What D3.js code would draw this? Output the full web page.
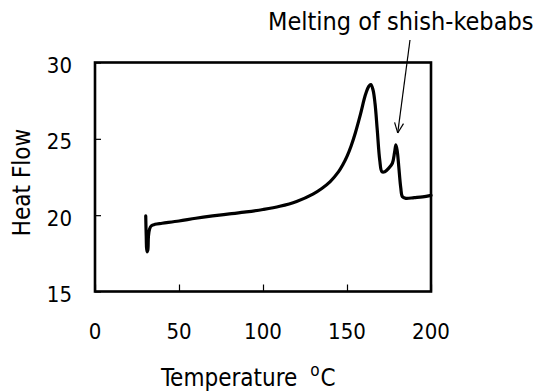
<!DOCTYPE html>
<html>
<head>
<meta charset="utf-8">
<script src="https://cdn.jsdelivr.net/npm/d3@7"></script>
<style>
  html, body { margin: 0; padding: 0; background: #fff; }
  svg { display: block; }
  text { font-family: "DejaVu Sans Condensed", "DejaVu Sans", sans-serif; font-stretch: condensed; fill: #000; }
</style>
</head>
<body>
<svg id="chart" width="538" height="391"></svg>
<script>
// DSC trace: temperature (°C) and heat flow
const temperature = [30.2, 30.5, 30.9, 31.4, 31.8, 32.5, 33.5, 35.7, 40, 50, 60, 70, 80, 90, 100,
  110, 120, 130, 135, 140, 145, 147.5, 150, 152.5, 155, 158, 161, 163, 164.2, 165.5, 166.7, 168, 169.5,
  170.8, 172.5, 175, 177, 178.3, 179.1, 179.9, 180.8, 182, 183, 185, 190, 195, 200];
const heatFlow = [19.95, 18.6, 17.6, 17.7, 18.6, 19.1, 19.3, 19.4, 19.47, 19.62, 19.8, 19.95, 20.08, 20.21, 20.37,
  20.58, 20.9, 21.4, 21.75, 22.2, 22.85, 23.3, 23.85, 24.55, 25.4, 26.6, 27.9, 28.45, 28.55, 28.2, 27.3, 25.6, 23.6,
  22.85, 22.85, 23.1, 23.4, 24.1, 24.6, 24.2, 23.2, 21.8, 21.2, 21.1, 21.15, 21.2, 21.3];

const xTicks = [0, 50, 100, 150, 200];
const yTicks = [15, 20, 25, 30];
const xDomain = [0, 200];
const yDomain = [15, 30];

// Annotated second melting peak
const annotationText = "Melting of shish-kebabs";
const annotationTarget = [179, 24.6];

(function draw() {
  const svg = d3.select("#chart");
  const pl = 95, pr = 431, pt = 62.5, pb = 291.5;

  const x = d3.scaleLinear().domain(xDomain).range([pl, pr]);
  const y = d3.scaleLinear().domain(yDomain).range([pb, pt]);

  // Axes: inward ticks, labels drawn separately
  const xAxis = svg.append("g")
    .attr("transform", `translate(0,${pb})`)
    .call(d3.axisBottom(x).tickValues(xTicks).tickSize(-7).tickFormat(""));
  const yAxis = svg.append("g")
    .attr("transform", `translate(${pl},0)`)
    .call(d3.axisLeft(y).tickValues(yTicks).tickSize(-6).tickFormat(""));
  [xAxis, yAxis].forEach(g => {
    g.select(".domain").remove();
    g.selectAll(".tick line").attr("stroke", "#000").attr("stroke-width", 1.2);
  });

  // Tick labels
  svg.append("g").selectAll("text").data(xTicks).join("text")
    .attr("x", d => x(d)).attr("y", 339)
    .attr("text-anchor", "middle").attr("font-size", 22)
    .text(d => d);
  svg.append("g").selectAll("text").data(yTicks).join("text")
    .attr("x", 72).attr("y", d => y(d) + 10.5)
    .attr("text-anchor", "end").attr("font-size", 22)
    .text(d => d);

  // Frame
  svg.append("rect")
    .attr("x", pl).attr("y", pt)
    .attr("width", pr - pl).attr("height", pb - pt)
    .attr("fill", "none").attr("stroke", "#000").attr("stroke-width", 2.6);

  // Curve
  const pts = temperature.map((t, i) => [t, heatFlow[i]]);
  const line = d3.line().x(d => x(d[0])).y(d => y(d[1])).curve(d3.curveCatmullRom.alpha(0.5));
  svg.append("path")
    .datum(pts)
    .attr("d", line)
    .attr("fill", "none").attr("stroke", "#000")
    .attr("stroke-width", 3.2).attr("stroke-linejoin", "round").attr("stroke-linecap", "round");

  // Axis titles
  const xt = svg.append("text")
    .attr("x", 161).attr("y", 386).attr("font-size", 24);
  xt.append("tspan").text("Temperature ");
  xt.append("tspan").attr("dy", -10).attr("dx", 6).attr("font-size", 17).text("o");
  xt.append("tspan").attr("dy", 10).attr("dx", 1).text("C");

  svg.append("text")
    .attr("transform", "translate(29.5,182.5) rotate(-90)")
    .attr("text-anchor", "middle").attr("font-size", 24)
    .text("Heat Flow");

  // Annotation with open arrowhead
  svg.append("text")
    .attr("x", 268).attr("y", 30).attr("font-size", 25)
    .text(annotationText);

  const tip = [x(annotationTarget[0]) + 2, y(annotationTarget[1]) - 12];
  const start = [410, 40];
  svg.append("line")
    .attr("x1", start[0]).attr("y1", start[1]).attr("x2", tip[0]).attr("y2", tip[1])
    .attr("stroke", "#000").attr("stroke-width", 1.2);
  const ang = Math.atan2(tip[1] - start[1], tip[0] - start[0]);
  const headLen = 11, spread = 0.42;
  [ang + Math.PI - spread, ang + Math.PI + spread].forEach(a => {
    svg.append("line")
      .attr("x1", tip[0]).attr("y1", tip[1])
      .attr("x2", tip[0] + headLen * Math.cos(a)).attr("y2", tip[1] + headLen * Math.sin(a))
      .attr("stroke", "#000").attr("stroke-width", 1.2);
  });
})();
</script>
</body>
</html>
